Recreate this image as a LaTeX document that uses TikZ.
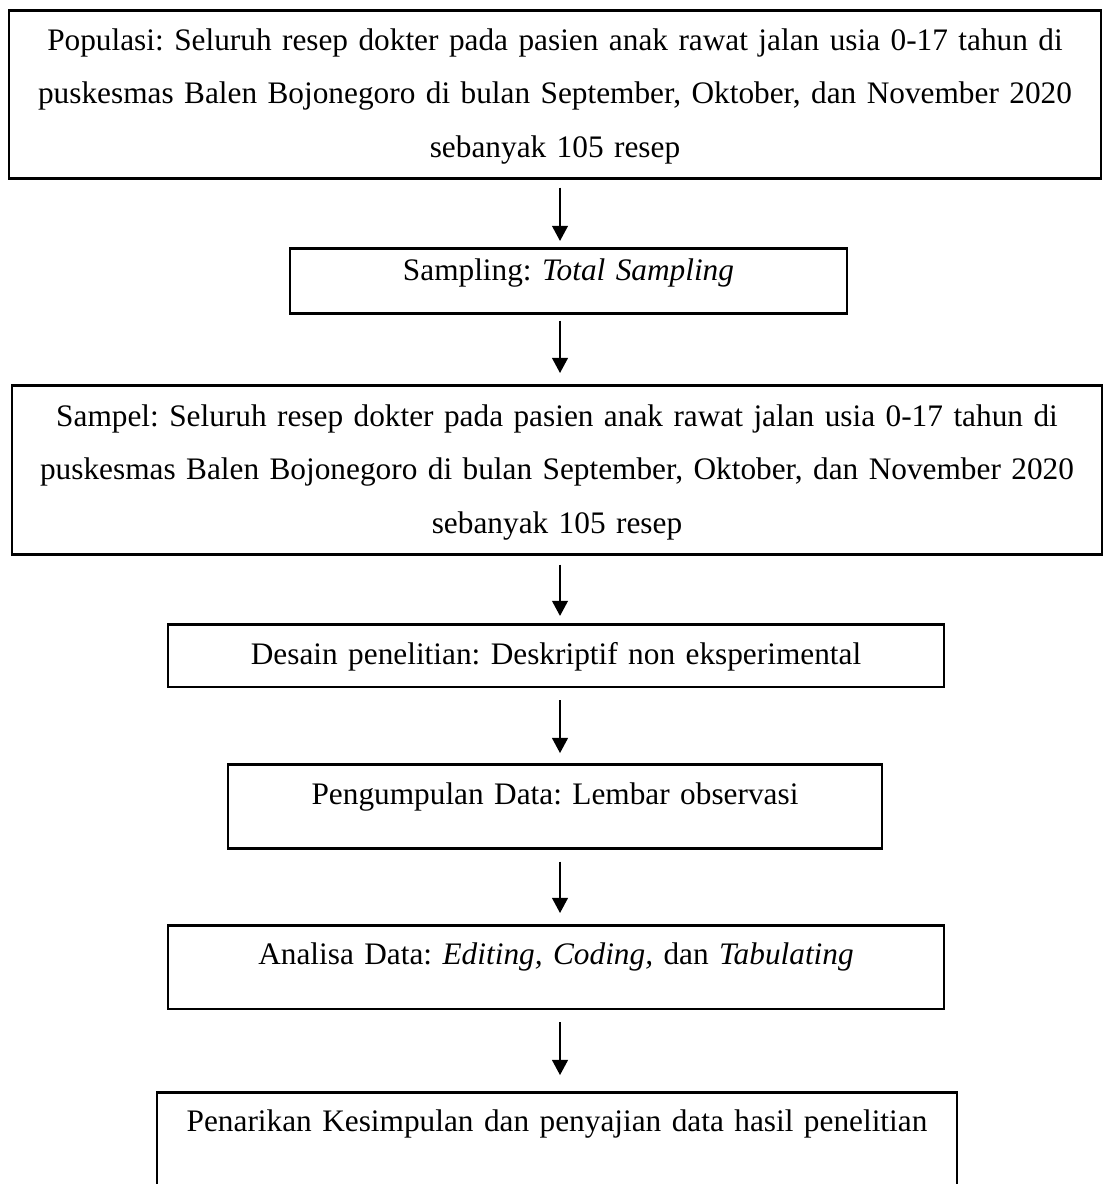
\documentclass[tikz,border=0pt]{standalone}
\usepackage{fontspec}
\setmainfont{Liberation Serif}
\usepackage{tikz}
\usetikzlibrary{arrows.meta, positioning}
\frenchspacing
\tikzset{
  box/.style={
    rectangle, draw=black, line width=1pt, inner sep=0pt,
    align=center, anchor=north,
    font=\fontsize{12pt}{20.5pt}\selectfont
  },
  arrow/.style={-{Triangle[length=5.8pt, width=6pt]}, line width=0.8pt}
}
\begin{document}
\begin{tikzpicture}[x=0.3833pt, y=-0.3833pt]
  \useasboundingbox (0,0) rectangle (1102,1184);
  \coordinate (axis) at (560,0);

  \node[box, text width=418.6pt, text height=15.3pt, text depth=49.1pt] (pop) at (555,9)
    {Populasi: Seluruh resep dokter pada pasien anak rawat jalan usia 0-17 tahun di\\
     puskesmas Balen Bojonegoro di bulan September, Oktober, dan November 2020\\
     sebanyak 105 resep};
  \node[box, text width=213.5pt, text height=12.3pt, text depth=12.6pt] (samp) at (568.5,247)
    {Sampling: \textit{Total Sampling}};
  \node[box, text width=417.8pt, text height=15.7pt, text depth=49.1pt] (sampel) at (557,384)
    {Sampel: Seluruh resep dokter pada pasien anak rawat jalan usia 0-17 tahun di\\
     puskesmas Balen Bojonegoro di bulan September, Oktober, dan November 2020\\
     sebanyak 105 resep};
  \node[box, text width=297.4pt, text height=15.3pt, text depth=8.8pt] (desain) at (556,623)
    {Desain penelitian: Deskriptif non eksperimental};
  \node[box, text width=250.7pt, text height=15.3pt, text depth=16.9pt] (kumpul) at (555,763)
    {Pengumpulan Data: Lembar observasi};
  \node[box, text width=297.4pt, text height=14.9pt, text depth=17.2pt] (analisa) at (556,924)
    {Analisa Data: \textit{Editing, Coding,} dan \textit{Tabulating}};
  \node[box, text width=306.6pt, text height=14.9pt, text depth=26.8pt] (simpul) at (557,1091)
    {Penarikan Kesimpulan dan penyajian data hasil penelitian};

  % panah antar tahap
  \draw[arrow, shorten <=3.1pt, shorten >=2.3pt] (pop.south -| axis) -- (samp.north -| axis);
  \draw[arrow, shorten <=2.3pt, shorten >=4.2pt] (samp.south -| axis) -- (sampel.north -| axis);
  \draw[arrow, shorten <=3.4pt, shorten >=2.7pt] (sampel.south -| axis) -- (desain.north -| axis);
  \draw[arrow, shorten <=4.6pt, shorten >=3.8pt] (desain.south -| axis) -- (kumpul.north -| axis);
  \draw[arrow, shorten <=4.6pt, shorten >=4.2pt] (kumpul.south -| axis) -- (analisa.north -| axis);
  \draw[arrow, shorten <=4.6pt, shorten >=6.1pt] (analisa.south -| axis) -- (simpul.north -| axis);
\end{tikzpicture}
\end{document}
